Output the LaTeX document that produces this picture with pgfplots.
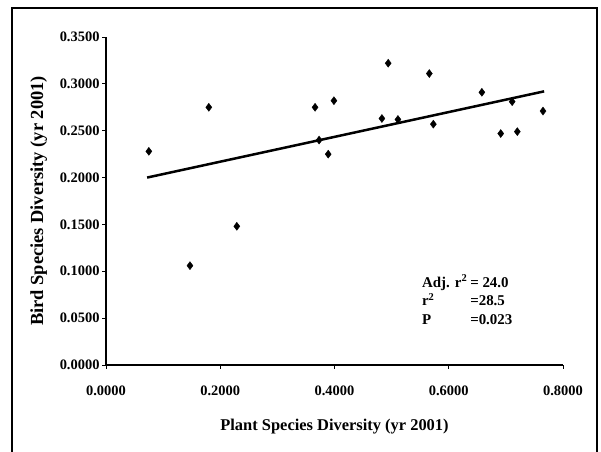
\documentclass[border=0pt]{standalone}
\usepackage{pgfplots}
\pgfplotsset{compat=1.18}
\usepackage{fontspec}
\setmainfont{Liberation Serif}
\begin{document}
\begin{tikzpicture}[x=1bp,y=1bp]
\path[use as bounding box] (0,0) rectangle (601,452);
\draw[line width=1.3bp] (12,-5) -- (12,444) -- (597,444) -- (597,-5);
\begin{axis}[
  at={(106bp,87bp)}, anchor=south west,
  scale only axis, width=457bp, height=328bp,
  xmin=0, xmax=0.8, ymin=0, ymax=0.35,
  axis x line=bottom, axis y line=left,
  axis line style={-, line width=1.1bp},
  xtick={0,0.2,0.4,0.6,0.8},
  ytick={0,0.05,0.1,0.15,0.2,0.25,0.3,0.35},
  tick style={line width=0.9bp, black},
  tick align=outside, major tick length=4bp,
  xticklabel style={font=\fontsize{14.5}{16}\selectfont\bfseries, yshift=-13bp},
  yticklabel style={font=\fontsize{14.5}{16}\selectfont\bfseries, xshift=1bp},
  /pgf/number format/fixed, /pgf/number format/fixed zerofill,
  /pgf/number format/precision=4, /pgf/number format/assume math mode=true,
  xlabel={Plant Species Diversity (yr 2001)},
  ylabel={Bird Species Diversity (yr 2001)},
  xlabel style={font=\fontsize{16.5}{18}\selectfont\bfseries, at={(axis description cs:0.5,-0.189)}, anchor=center},
  ylabel style={font=\fontsize{18.5}{20}\selectfont\bfseries, at={(axis description cs:-0.147,0.5)}, anchor=center},
  clip=false,
]
\addplot[only marks, mark=diamond*, mark size=4bp, black] coordinates {
(0.075,0.228) (0.180,0.275) (0.229,0.148) (0.147,0.106)
(0.366,0.275) (0.399,0.282) (0.494,0.322) (0.566,0.311)
(0.658,0.291) (0.483,0.263) (0.511,0.262) (0.573,0.257)
(0.711,0.281) (0.765,0.271) (0.691,0.247) (0.720,0.249)
(0.373,0.240) (0.389,0.225)
};
\addplot[black, line width=2.5bp] coordinates {(0.072,0.200) (0.767,0.292)};
\node[anchor=west, inner sep=0pt, font=\fontsize{15}{19}\selectfont\bfseries] at (axis cs:0.553,0.067) {%
\begin{tabular}{@{}l@{\hspace{3bp}}l@{}}
Adj. r$^{\mathbf{2}}$ & = 24.0\\[0bp]
r$^{\mathbf{2}}$ & =28.5\\[0bp]
P & =0.023
\end{tabular}};
\end{axis}
\end{tikzpicture}
\end{document}
